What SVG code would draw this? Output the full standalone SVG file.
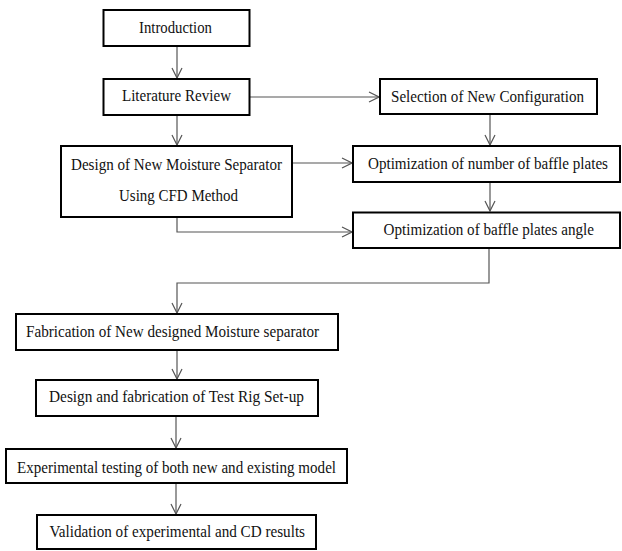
<svg xmlns="http://www.w3.org/2000/svg" width="622" height="551" viewBox="0 0 622 551">
<style>
.box{fill:#fff;stroke:#000;stroke-width:2}
text{font-family:'Liberation Serif',serif;font-size:17px;fill:#111}
.c{fill:none;stroke:#555;stroke-width:1.2}
</style>
<defs>
<marker id="ah" viewBox="0 0 12 12" refX="11" refY="6" markerWidth="12" markerHeight="12" markerUnits="userSpaceOnUse" orient="auto">
<path d="M1,1 L11,6 L1,11" fill="none" stroke="#555" stroke-width="1.2"/>
</marker>
</defs>
<rect width="622" height="551" fill="#fff"/>
<g id="connectors">
<path class="c" d="M177,46 V78" marker-end="url(#ah)"/>
<path class="c" d="M249,97 H379" marker-end="url(#ah)"/>
<path class="c" d="M177,115 V145" marker-end="url(#ah)"/>
<path class="c" d="M490,114 V145" marker-end="url(#ah)"/>
<path class="c" d="M292,163 H352" marker-end="url(#ah)"/>
<path class="c" d="M490,182 V211" marker-end="url(#ah)"/>
<path class="c" d="M177,217 V232 H352" marker-end="url(#ah)"/>
<path class="c" d="M489,248 V283 H177 V313" marker-end="url(#ah)"/>
<path class="c" d="M177,350 V379" marker-end="url(#ah)"/>
<path class="c" d="M176,416 V448" marker-end="url(#ah)"/>
<path class="c" d="M176,483 V514" marker-end="url(#ah)"/>
</g>
<g id="intro">
<rect class="box" x="103.5" y="10" width="146" height="36"/>
<text x="139" y="32.5" textLength="73" lengthAdjust="spacingAndGlyphs">Introduction</text>
</g>
<g id="literature">
<rect class="box" x="103.5" y="79" width="146" height="36"/>
<text x="122" y="101" textLength="109" lengthAdjust="spacingAndGlyphs">Literature Review</text>
</g>
<g id="selection">
<rect class="box" x="380" y="79" width="217" height="35"/>
<text x="391" y="101.5" textLength="193" lengthAdjust="spacingAndGlyphs">Selection of New Configuration</text>
</g>
<g id="design">
<rect class="box" x="61" y="146" width="231" height="71"/>
<text x="71" y="169.5" textLength="211" lengthAdjust="spacingAndGlyphs">Design of New Moisture Separator</text>
<text x="119" y="201" textLength="119" lengthAdjust="spacingAndGlyphs">Using CFD Method</text>
</g>
<g id="number">
<rect class="box" x="353" y="146" width="267" height="36"/>
<text x="368" y="168.5" textLength="240" lengthAdjust="spacingAndGlyphs" style="font-size:16px">Optimization of number of baffle plates</text>
</g>
<g id="angle">
<rect class="box" x="353" y="212.5" width="267" height="35.5"/>
<text x="383.5" y="235" textLength="210.5" lengthAdjust="spacingAndGlyphs">Optimization of baffle plates angle</text>
</g>
<g id="fabrication">
<rect class="box" x="16" y="314" width="322" height="36"/>
<text x="26" y="336.5" textLength="293" lengthAdjust="spacingAndGlyphs">Fabrication of New designed Moisture separator</text>
</g>
<g id="testrig">
<rect class="box" x="36" y="380" width="282" height="36"/>
<text x="49" y="402" textLength="255" lengthAdjust="spacingAndGlyphs">Design and fabrication of Test Rig Set-up</text>
</g>
<g id="testing">
<rect class="box" x="6" y="449" width="341" height="34"/>
<text x="17" y="472.5" textLength="319" lengthAdjust="spacingAndGlyphs">Experimental testing of both new and existing model</text>
</g>
<g id="validation">
<rect class="box" x="37" y="515" width="279" height="34"/>
<text x="49.5" y="536.5" textLength="255.5" lengthAdjust="spacingAndGlyphs">Validation of experimental and CD results</text>
</g>
</svg>
